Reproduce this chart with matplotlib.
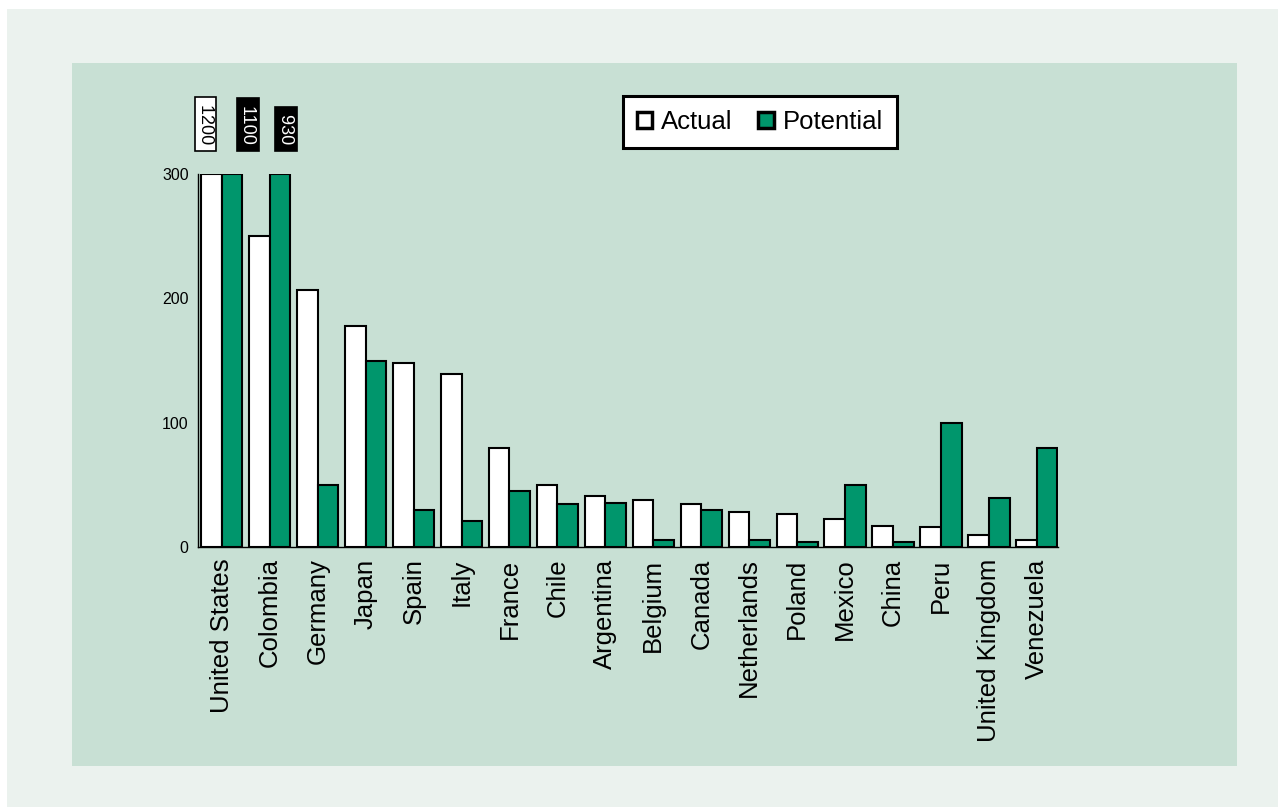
import numpy as np
import matplotlib
matplotlib.use("Agg")
import matplotlib.pyplot as plt
from matplotlib.patches import Rectangle, Patch

plt.rcParams['font.family'] = ['Liberation Sans', 'DejaVu Sans']

countries = ["United States", "Colombia", "Germany", "Japan", "Spain", "Italy",
             "France", "Chile", "Argentina", "Belgium", "Canada", "Netherlands",
             "Poland", "Mexico", "China", "Peru", "United Kingdom", "Venezuela"]
actual = [1200, 250, 207, 178, 148, 139, 80, 50, 41, 38, 35, 28, 27, 23, 17, 16, 10, 6]
potential = [1100, 930, 50, 150, 30, 21, 45, 35, 36, 6, 30, 6, 4, 50, 4, 100, 40, 80]
y_ticks = [0, 100, 200, 300]
y_cap = 300

GREEN = "#00966c"
PANEL = "#c8e0d4"
OUTER = "#ebf2ee"

W, H = 1278, 807
fig = plt.figure(figsize=(W / 100, H / 100), dpi=100, facecolor="white")

# background boxes, in pixel units converted to figure fractions
def px_rect(x0, y0, x1, y1, color):
    fig.patches.append(Rectangle((x0 / W, 1 - y1 / H), (x1 - x0) / W, (y1 - y0) / H,
                                 transform=fig.transFigure, facecolor=color,
                                 edgecolor="none", zorder=-10))

px_rect(7, 9, W, H, OUTER)
px_rect(72, 63, 1237, 766, PANEL)

ax = fig.add_axes([0.1552, 0.3218, 0.673, 0.4626])
ax.set_facecolor("none")

x = np.arange(len(countries))
bw = 0.43
act = np.minimum(actual, y_cap)
pot = np.minimum(potential, y_cap)
ax.bar(x - bw / 2, act, bw, color="white", edgecolor="black", linewidth=1.5, zorder=3)
ax.bar(x + bw / 2, pot, bw, color=GREEN, edgecolor="black", linewidth=1.5, zorder=3)

# values that run past the axis top get a rotated label above the bar
shift = {("a", 0): -0.12, ("p", 0): 0.33, ("p", 1): 0.12}
for kind, vals, off in (("a", actual, -bw / 2), ("p", potential, bw / 2)):
    for i, v in enumerate(vals):
        if v > y_cap:
            dark = kind == "p"
            ax.text(i + off + shift.get((kind, i), 0), 320, f" {v} ", rotation=270,
                    ha="center", va="bottom", fontsize=13,
                    color="white" if dark else "black", clip_on=False,
                    bbox=dict(boxstyle="square,pad=0.12", facecolor="black" if dark else "white",
                              edgecolor="black", linewidth=1.2))

ax.set_xlim(-0.49, 17.45)
ax.set_ylim(0, y_cap)
ax.set_yticks(y_ticks)
ax.set_yticklabels([str(t) for t in y_ticks], fontsize=11.5)
ax.set_xticks(x)
ax.set_xticklabels(countries, rotation=90, fontsize=18.5)
ax.tick_params(axis="y", length=0, pad=7)
ax.tick_params(axis="x", length=0, pad=8)
for s in ("top", "right"):
    ax.spines[s].set_visible(False)
for s in ("left", "bottom"):
    ax.spines[s].set_linewidth(1.0)
    ax.spines[s].set_color("black")

handles = [Patch(facecolor="white", edgecolor="black", linewidth=2.5, label="Actual"),
           Patch(facecolor=GREEN, edgecolor="black", linewidth=2.5, label="Potential")]
leg = fig.legend(handles=handles, loc="center", bbox_to_anchor=(760 / W, 1 - 122 / H),
                 ncol=2, fontsize=18.5, frameon=True, fancybox=False, framealpha=1,
                 handlelength=0.6, handleheight=0.6, handletextpad=0.35,
                 columnspacing=1.0, borderpad=0.55)
leg.get_frame().set_edgecolor("black")
leg.get_frame().set_linewidth(2.2)
leg.get_frame().set_facecolor("white")

fig.savefig("out.png", dpi=100)
